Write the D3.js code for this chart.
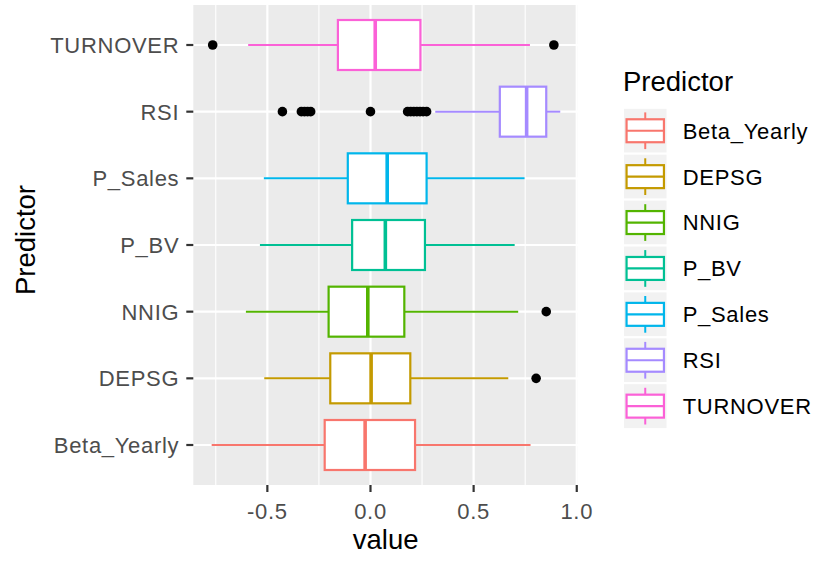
<!DOCTYPE html>
<html>
<head>
<meta charset="utf-8">
<script src="https://cdn.jsdelivr.net/npm/d3@7"></script>
<style>
  body { margin: 0; background: #fff; }
  svg { font-family: "Liberation Sans", Arial, sans-serif; }
</style>
</head>
<body>
<div id="chart"></div>
<script>
// Predictor categories (bottom to top) and their ggplot hue colours
const categories = ["Beta_Yearly", "DEPSG", "NNIG", "P_BV", "P_Sales", "RSI", "TURNOVER"];
const colors = ["#F8766D", "#C49A00", "#53B400", "#00C094", "#00B6EB", "#A58AFF", "#FB61D7"];

// Box statistics
const lowerWhisker = [-0.770, -0.515, -0.604, -0.536, -0.517, 0.314, -0.593];
const q1 = [-0.222, -0.195, -0.203, -0.089, -0.110, 0.627, -0.158];
const medians = [-0.026, 0.003, -0.013, 0.072, 0.081, 0.757, 0.023];
const q3 = [0.216, 0.193, 0.164, 0.264, 0.272, 0.852, 0.242];
const upperWhisker = [0.776, 0.668, 0.716, 0.699, 0.747, 0.920, 0.773];
const outliers = [
  [],
  [0.803],
  [0.852],
  [],
  [],
  [-0.427, -0.335, -0.320, -0.305, -0.290, 0.0, 0.180, 0.195, 0.210, 0.225, 0.240, 0.255, 0.272],
  [-0.765, 0.889]
];

const xTicks = [-0.5, 0.0, 0.5, 1.0];
const xMinor = [-0.75, -0.25, 0.25, 0.75];
const xDomain = [-0.859, 1.006];

const width = 815, height = 563;
const panel = { left: 193.3, right: 578, top: 5, bottom: 485 };

const svg = d3.select("#chart").append("svg")
  .attr("width", width)
  .attr("height", height);

const x = d3.scaleLinear().domain(xDomain).range([panel.left, panel.right]);
const y = d3.scalePoint().domain(categories).range([panel.bottom, panel.top]).padding(0.6);
const boxH = y.step() * 0.75;

// Panel background and grid
svg.append("rect")
  .attr("x", panel.left).attr("y", panel.top)
  .attr("width", panel.right - panel.left).attr("height", panel.bottom - panel.top)
  .attr("fill", "#EBEBEB");

svg.append("g").selectAll("line")
  .data(xMinor)
  .enter().append("line")
  .attr("x1", d => x(d)).attr("x2", d => x(d))
  .attr("y1", panel.top).attr("y2", panel.bottom)
  .attr("stroke", "#fff").attr("stroke-width", 1.1);

svg.append("g").selectAll("line")
  .data(xTicks)
  .enter().append("line")
  .attr("x1", d => x(d)).attr("x2", d => x(d))
  .attr("y1", panel.top).attr("y2", panel.bottom)
  .attr("stroke", "#fff").attr("stroke-width", 2.2);

svg.append("g").selectAll("line")
  .data(categories)
  .enter().append("line")
  .attr("x1", panel.left).attr("x2", panel.right)
  .attr("y1", d => y(d)).attr("y2", d => y(d))
  .attr("stroke", "#fff").attr("stroke-width", 2.2);

// Boxplots
const boxes = svg.append("g").selectAll("g")
  .data(categories)
  .enter().append("g");

boxes.each(function(cat, i) {
  const g = d3.select(this);
  const cy = y(cat);
  const col = colors[i];

  g.selectAll("circle")
    .data(outliers[i])
    .enter().append("circle")
    .attr("cx", d => x(d))
    .attr("cy", cy)
    .attr("r", 4.8)
    .attr("fill", "#000");

  g.append("line")
    .attr("x1", x(lowerWhisker[i])).attr("x2", x(q1[i]))
    .attr("y1", cy).attr("y2", cy)
    .attr("stroke", col).attr("stroke-width", 2);
  g.append("line")
    .attr("x1", x(q3[i])).attr("x2", x(upperWhisker[i]))
    .attr("y1", cy).attr("y2", cy)
    .attr("stroke", col).attr("stroke-width", 2);

  g.append("rect")
    .attr("x", x(q1[i])).attr("y", cy - boxH / 2)
    .attr("width", x(q3[i]) - x(q1[i])).attr("height", boxH)
    .attr("fill", "#fff").attr("stroke", col).attr("stroke-width", 2.2);

  g.append("line")
    .attr("x1", x(medians[i])).attr("x2", x(medians[i]))
    .attr("y1", cy - boxH / 2).attr("y2", cy + boxH / 2)
    .attr("stroke", col).attr("stroke-width", 3.6);
});

// Axes
const textSize = 22, titleSize = 27.5, spacing = "0.7px";

const xAxis = svg.append("g");
xAxis.selectAll("line")
  .data(xTicks)
  .enter().append("line")
  .attr("x1", d => x(d)).attr("x2", d => x(d))
  .attr("y1", panel.bottom).attr("y2", panel.bottom + 7)
  .attr("stroke", "#333").attr("stroke-width", 2.2);
xAxis.selectAll("text")
  .data(xTicks)
  .enter().append("text")
  .attr("x", d => x(d))
  .attr("y", 519)
  .attr("text-anchor", "middle")
  .attr("font-size", textSize)
  .attr("letter-spacing", spacing)
  .attr("fill", "#4D4D4D")
  .text(d => d3.format(".1f")(d).replace("\u2212", "-"));

const yAxis = svg.append("g");
yAxis.selectAll("line")
  .data(categories)
  .enter().append("line")
  .attr("x1", panel.left - 7).attr("x2", panel.left)
  .attr("y1", d => y(d)).attr("y2", d => y(d))
  .attr("stroke", "#333").attr("stroke-width", 2.2);
yAxis.selectAll("text")
  .data(categories)
  .enter().append("text")
  .attr("x", panel.left - 14)
  .attr("y", d => y(d))
  .attr("dy", "0.36em")
  .attr("text-anchor", "end")
  .attr("font-size", textSize)
  .attr("letter-spacing", spacing)
  .attr("fill", "#4D4D4D")
  .text(d => d);

svg.append("text")
  .attr("x", (panel.left + panel.right) / 2)
  .attr("y", 549)
  .attr("text-anchor", "middle")
  .attr("font-size", titleSize)
  .attr("fill", "#000")
  .text("value");

svg.append("text")
  .attr("transform", `translate(35,${(panel.top + panel.bottom) / 2 - 5}) rotate(-90)`)
  .attr("text-anchor", "middle")
  .attr("font-size", titleSize)
  .attr("fill", "#000")
  .text("Predictor");

// Legend
const legendX = 623, keyW = 44.5, keyH = 45.9, legendTop = 107.8;
const legend = svg.append("g");

legend.append("text")
  .attr("x", legendX)
  .attr("y", 91)
  .attr("font-size", titleSize)
  .attr("fill", "#000")
  .text("Predictor");

const keys = legend.selectAll("g")
  .data(categories)
  .enter().append("g")
  .attr("transform", (d, i) => `translate(${legendX},${legendTop + i * keyH})`);

keys.append("rect")
  .attr("width", keyW).attr("height", keyH)
  .attr("fill", "#F2F2F2").attr("stroke", "#fff").attr("stroke-width", 2);

keys.append("line")
  .attr("x1", keyW / 2).attr("x2", keyW / 2)
  .attr("y1", keyH * 0.1).attr("y2", keyH * 0.9)
  .attr("stroke", (d, i) => colors[i]).attr("stroke-width", 2);

keys.append("rect")
  .attr("x", keyW * 0.08).attr("y", keyH * 0.25)
  .attr("width", keyW * 0.84).attr("height", keyH * 0.5)
  .attr("fill", "#fff").attr("stroke", (d, i) => colors[i]).attr("stroke-width", 2.2);

keys.append("line")
  .attr("x1", keyW * 0.08).attr("x2", keyW * 0.92)
  .attr("y1", keyH / 2).attr("y2", keyH / 2)
  .attr("stroke", (d, i) => colors[i]).attr("stroke-width", 2.2);

keys.append("text")
  .attr("x", 682.7 - legendX)
  .attr("y", keyH / 2)
  .attr("dy", "0.36em")
  .attr("font-size", textSize)
  .attr("letter-spacing", spacing)
  .attr("fill", "#000")
  .text(d => d);
</script>
</body>
</html>
